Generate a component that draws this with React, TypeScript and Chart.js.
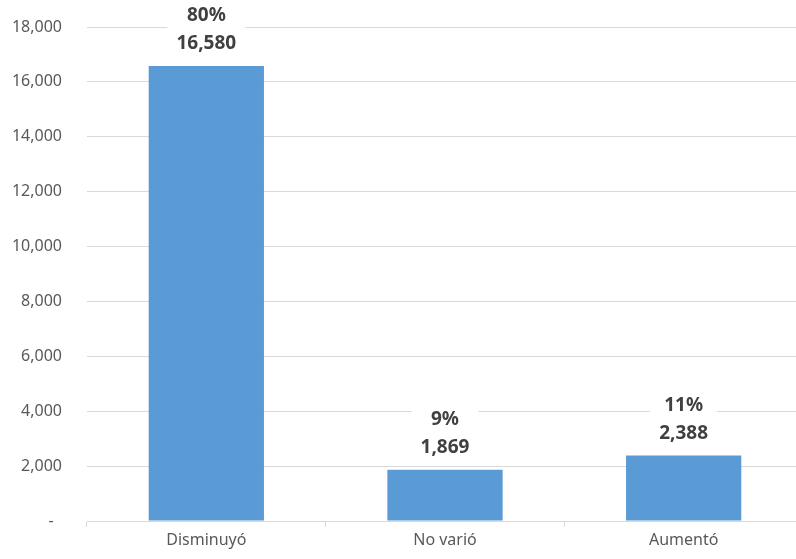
import React, { useEffect, useRef } from "react";
import { Chart, registerables } from "chart.js";

Chart.register(...registerables);

const categories = ["Disminuyó", "No varió", "Aumentó"];
const values = [16580, 1869, 2388];
const percents = ["80%", "9%", "11%"];
const yTicks = [0, 2000, 4000, 6000, 8000, 10000, 12000, 14000, 16000, 18000];

const FONT = "'Noto Sans', 'Open Sans', sans-serif";

const labelPlugin = {
  id: "barLabels",
  afterDatasetsDraw(chart: any) {
    const ctx = chart.ctx;
    const meta = chart.getDatasetMeta(0);
    ctx.save();
    ctx.font = `bold 19px ${FONT}`;
    ctx.textAlign = "center";
    ctx.textBaseline = "middle";
    meta.data.forEach((bar: any, i: number) => {
      const x = bar.x;
      const top = bar.y;
      const l1 = percents[i];
      const l2 = values[i].toLocaleString("en-US");
      const w = Math.max(ctx.measureText(l1).width, ctx.measureText(l2).width) + 18;
      ctx.fillStyle = "#ffffff";
      ctx.fillRect(x - w / 2, top - 64, w, 56);
      ctx.fillStyle = "#404040";
      ctx.fillText(l1, x, top - 50);
      ctx.fillText(l2, x, top - 22);
    });
    ctx.restore();
  },
};

export default function App() {
  const ref = useRef<HTMLCanvasElement>(null);
  useEffect(() => {
    if (!ref.current) return;
    const chart = new Chart(ref.current, {
      type: "bar",
      data: {
        labels: categories,
        datasets: [
          {
            data: values,
            backgroundColor: "#5B9BD5",
            categoryPercentage: 1,
            barPercentage: 0.483,
          },
        ],
      },
      options: {
        animation: false,
        responsive: false,
        maintainAspectRatio: false,
        layout: { padding: { top: 27, right: 0, left: 0, bottom: 0 } },
        plugins: { legend: { display: false }, tooltip: { enabled: false } },
        scales: {
          x: {
            grid: {
              offset: true,
              drawOnChartArea: false,
              drawTicks: true,
              tickLength: 6,
              color: "#d9d9d9",
            },
            border: { display: true, color: "#d9d9d9" },
            ticks: {
              color: "#595959",
              font: { family: FONT, size: 16 },
              padding: 4,
            },
            afterFit: (s: any) => {
              s.height = 38;
              s.paddingLeft = 0;
              s.paddingRight = 0;
            },
          },
          y: {
            min: 0,
            max: 18000,
            afterBuildTicks: (s: any) => {
              s.ticks = yTicks.map((v) => ({ value: v }));
            },
            grid: { color: "#d9d9d9", drawTicks: false },
            border: { display: false },
            ticks: {
              color: "#595959",
              font: { family: FONT, size: 16 },
              padding: 25,
              callback: (v: any) => (v === 0 ? "-  " : Number(v).toLocaleString("en-US")),
            },
            afterFit: (s: any) => {
              s.width = 87;
              s.paddingTop = 0;
              s.paddingBottom = 0;
            },
          },
        },
      },
      plugins: [labelPlugin],
    });
    return () => chart.destroy();
  }, []);
  return (
    <div style={{ position: "fixed", left: 0, top: 0, width: 796, height: 559, overflow: "hidden", background: "#fff" }}>
      <canvas ref={ref} width={803} height={559} style={{ width: 803, height: 559 }} />
    </div>
  );
}
